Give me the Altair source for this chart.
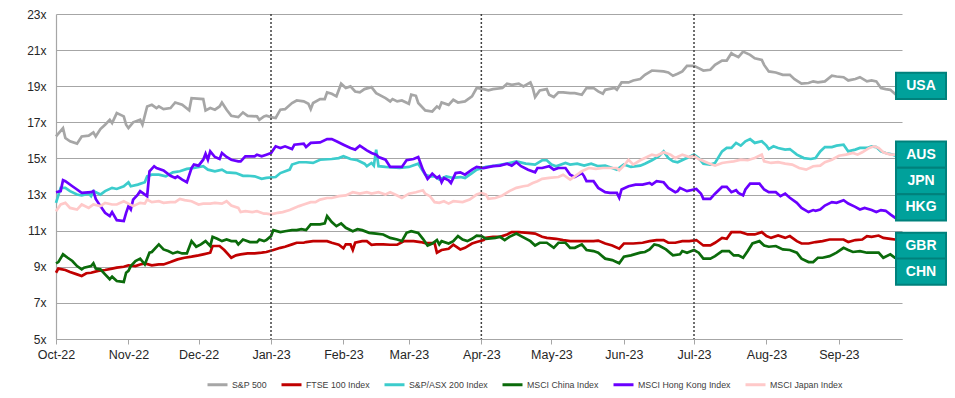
import altair as alt
import pandas as pd

START = "2022-10-01"
END = "2023-09-28"

SERIES = ["S&P 500", "FTSE 100 Index", "S&P/ASX 200 Index", "MSCI China Index",
          "MSCI Hong Kong Index", "MSCI Japan Index"]
COLORS = ["#A6A6A6", "#C00000", "#3CCCCC", "#0B6B0B", "#6A00FF", "#FFC9C9"]

Y_TICKS = [5, 7, 9, 11, 13, 15, 17, 19, 21, 23]
MONTHS = ["2022-10-01", "2022-11-01", "2022-12-01", "2023-01-01", "2023-02-01",
          "2023-03-01", "2023-04-01", "2023-05-01", "2023-06-01", "2023-07-01",
          "2023-08-01", "2023-09-01"]
QUARTERS = ["2023-01-01", "2023-04-01", "2023-07-01"]

BOX_LABELS = ["USA", "AUS", "JPN", "HKG", "GBR", "CHN"]
BOX_CENTERS = [19.02, 15.21, 13.75, 12.29, 10.16, 8.73]
BOX_HALF = 0.73

# (days since 2022-10-01, P/E multiple)
SP500 = [(0,16.22),(3,16.68),(4,16.13),(6,15.95),(9,15.82),(11,16.22),(14,16.26),(16,16.44),(17,16.22),(19,16.63),(21,16.87),(23,17.14),(24,16.96),(26,17.51),(29,17.33),(30,16.87),(31,16.68),(33,17.0),(36,17.14),(37,16.87),(39,17.88),(41,17.97),(43,17.79),(44,17.88),(46,17.73),(49,17.79),(51,18.1),(54,17.97),(57,17.66),(58,18.34),(63,18.29),(64,17.66),(66,17.79),(68,17.7),(70,17.88),(71,18.1),(73,17.7),(75,17.36),(78,17.29),(80,17.55),(82,17.36),(86,17.33),(87,17.14),(89,17.33),
         (90,17.37),(92,17.29),(94,17.24),(96,17.7),(98,17.73),(101,18.07),(103,18.21),(106,18.16),(108,18.03),(109,17.73),(110,18.07),(113,18.29),(115,18.29),(116,18.66),(118,18.58),(120,18.44),(122,19.14),(124,18.9),(126,18.99),(128,18.71),(130,18.66),(132,18.84),(135,18.95),(137,18.62),(141,18.34),(143,18.16),(144,18.29),(146,18.16),(148,18.21),(151,18.03),(152,18.53),(154,18.47),(155,18.07),(158,17.66),(161,17.6),(163,17.88),(164,17.79),(165,18.1),(168,17.97),(170,18.25),(172,18.1),(175,18.16),(178,18.44),
         (180,18.9),(183,18.84),(185,18.77),(187,18.84),(191,18.9),(193,19.14),(195,19.08),(198,19.14),(200,18.99),(203,19.21),(204,18.9),(205,18.4),(207,18.77),(210,18.84),(211,18.53),(213,18.4),(215,18.66),(217,18.66),(220,18.62),(222,18.62),(225,18.53),(227,18.9),(230,18.9),(232,18.71),(234,18.58),(235,18.8),(239,18.9),(240,18.8),(242,19.21),(245,19.21),(247,19.32),(250,19.4),(252,19.63),(255,19.87),(260,19.82),(262,19.76),(264,19.58),(266,19.69),(268,19.82),(270,20.13),
         (273,20.13),(275,20.0),(277,19.87),(280,19.91),(282,20.18),(285,20.42),(287,20.42),(289,20.83),(290,20.74),(292,20.61),(294,20.92),(297,20.74),(299,20.55),(302,20.46),(303,20.18),(305,19.82),(308,19.76),(311,19.63),(314,19.63),(316,19.39),(319,19.14),(322,19.18),(324,19.27),(326,19.21),(329,19.27),(332,19.58),(334,19.54),(337,19.5),(339,19.32),(342,19.4),(344,19.5),(347,19.27),(349,19.32),(351,19.27),(353,18.9),(355,18.84),(357,18.8),(359,18.58),(360,18.66),(362,18.71)]

FTSE = [(0,8.67),(1,8.9),(4,8.82),(6,8.71),(9,8.58),(11,8.49),(13,8.64),(15,8.67),(18,8.77),(21,8.82),(24,8.9),(26,8.95),(29,9.0),(31,9.08),(34,9.04),(36,9.13),(38,9.19),(41,9.08),(44,9.13),(46,9.13),(49,9.26),(52,9.41),(55,9.5),(58,9.56),(61,9.63),(63,9.69),(66,9.78),(67,10.15),(70,10.15),(72,9.93),(75,9.5),(77,9.63),(79,9.69),(82,9.74),(85,9.74),(88,9.78),
        (90,9.82),(93,9.93),(96,10.05),(98,10.11),(101,10.24),(103,10.33),(106,10.33),(107,10.37),(110,10.42),(113,10.42),(116,10.42),(118,10.33),(121,10.22),(123,10.02),(124,10.24),(126,10.24),(127,9.93),(128,10.33),(131,10.42),(133,10.42),(135,10.22),(137,10.24),(140,10.24),(143,10.22),(146,10.22),(149,10.42),(153,10.42),(156,10.37),(158,10.31),(162,10.31),(163,9.78),(165,9.93),(168,10.0),(170,10.22),(173,9.96),(175,10.05),(178,10.29),
        (180,10.37),(183,10.48),(184,10.6),(187,10.66),(190,10.66),(193,10.79),(195,10.92),(198,10.92),(202,10.88),(205,10.84),(208,10.66),(210,10.6),(214,10.55),(217,10.48),(220,10.42),(224,10.42),(228,10.42),(230,10.42),(232,10.45),(235,10.29),(238,10.18),(241,10.0),(243,10.29),(247,10.29),(251,10.33),(254,10.42),(257,10.48),(260,10.48),(262,10.33),(265,10.33),(268,10.42),
        (271,10.42),(274,10.48),(277,10.18),(280,10.18),(282,10.33),(285,10.6),(287,10.55),(289,10.92),(293,10.92),(296,10.79),(299,10.79),(302,10.92),(304,10.7),(306,10.6),(309,10.73),(312,10.6),(314,10.7),(317,10.42),(319,10.29),(322,10.29),(325,10.37),(328,10.42),(331,10.51),(334,10.51),(337,10.51),(339,10.37),(342,10.48),(345,10.51),(347,10.7),(349,10.66),(352,10.73),(354,10.6),(357,10.55),(359,10.51),(361,10.51)]

ASX = [(0,12.54),(2,13.37),(4,13.37),(6,13.19),(9,13.0),(11,12.95),(14,13.05),(15,12.91),(16,13.19),(19,13.0),(21,13.19),(24,13.37),(26,13.31),(29,13.46),(31,13.68),(32,13.46),(35,13.55),(38,13.68),(39,14.01),(41,14.1),(44,14.1),(47,14.01),(50,14.23),(53,14.29),(56,14.42),(59,14.47),(63,14.57),(65,14.38),(68,14.29),(71,14.38),(73,14.23),(77,14.19),(80,14.04),(82,14.04),(85,14.01),(88,13.87),
       (90,13.92),(94,13.97),(96,14.19),(100,14.38),(101,14.66),(104,14.79),(107,14.79),(110,14.75),(113,14.93),(118,14.97),(121,15.02),(123,15.12),(126,14.97),(129,14.9),(132,14.71),(133,14.57),(135,14.75),(136,14.6),(137,15.49),(138,14.57),(141,14.53),(147,14.47),(151,14.53),(155,14.71),(158,14.1),(160,14.01),(162,14.01),(164,13.83),(167,14.01),(170,13.92),(173,13.97),(175,13.92),(178,14.19),
       (180,14.38),(184,14.53),(188,14.6),(193,14.71),(197,14.84),(201,14.71),(205,14.66),(208,14.9),(210,14.9),(212,14.66),(214,14.57),(218,14.75),(220,14.66),(223,14.71),(226,14.6),(229,14.71),(232,14.57),(235,14.6),(238,14.47),(240,14.38),(243,14.66),(246,14.53),(250,14.6),(252,14.71),(255,14.9),(258,15.12),(260,15.39),(262,15.02),(264,14.84),(266,14.79),(269,14.97),
       (271,15.08),(273,15.21),(275,15.02),(277,14.71),(280,14.66),(282,14.75),(285,15.39),(287,15.58),(289,15.58),(291,15.86),(293,15.71),(295,15.95),(297,16.07),(299,15.86),(302,15.95),(304,15.71),(305,15.52),(307,15.67),(309,15.58),(312,15.49),(314,15.52),(317,15.21),(320,15.02),(323,14.97),(325,15.02),(327,15.39),(329,15.63),(332,15.63),(334,15.71),(337,15.76),(339,15.39),(342,15.49),(344,15.58),(347,15.58),(349,15.67),(351,15.63),(353,15.39),(355,15.3),(358,15.21),(361,15.08)]

CHINA = [(0,9.19),(1,9.26),(3,9.69),(5,9.5),(7,9.32),(9,9.04),(11,8.86),(12,8.95),(15,9.04),(16,9.19),(17,8.9),(19,8.86),(21,8.58),(23,8.31),(24,8.45),(26,8.21),(29,8.16),(30,8.67),(31,8.77),(32,9.04),(34,9.32),(36,9.45),(38,9.13),(40,9.78),(41,9.82),(44,10.24),(46,9.96),(48,9.87),(50,9.74),(52,9.82),(54,9.74),(56,9.74),(58,10.42),(60,10.11),(62,10.24),(64,10.42),(66,10.15),(67,10.66),(69,10.55),(71,10.42),(73,10.51),(75,10.42),(77,10.42),(78,10.24),(80,10.51),(83,10.37),(86,10.37),(87,10.51),(89,10.42),
         (90,10.48),(92,10.7),(93,11.03),(96,10.92),(98,10.97),(101,11.03),(103,11.03),(105,11.08),(107,11.03),(109,11.35),(113,11.35),(115,11.4),(116,11.81),(118,11.48),(120,11.25),(122,11.4),(124,11.16),(127,10.97),(129,11.08),(131,11.03),(134,10.88),(137,10.84),(140,10.79),(143,10.6),(146,10.51),(148,10.42),(150,10.88),(152,10.97),(155,10.88),(157,10.55),(159,10.18),(161,10.29),(163,10.48),(164,10.24),(165,10.42),(168,10.29),(170,10.42),(172,10.7),(174,10.51),(176,10.42),(178,10.55),
         (180,10.73),(182,10.7),(184,10.55),(188,10.6),(190,10.66),(192,10.48),(194,10.66),(197,10.84),(199,10.7),(203,10.42),(205,10.18),(207,10.33),(210,10.33),(213,10.05),(215,10.33),(218,10.33),(220,10.05),(222,10.05),(225,10.24),(227,9.93),(230,9.87),(232,9.78),(235,9.45),(238,9.37),(241,9.19),(243,9.56),(246,9.63),(250,9.78),(252,9.82),(254,9.96),(256,10.24),(258,10.18),(261,9.96),(264,9.63),(267,9.69),(268,9.87),(270,9.78),
         (273,9.93),(275,9.78),(277,9.45),(280,9.45),(282,9.59),(285,9.87),(288,9.87),(290,9.63),(292,9.63),(294,9.5),(296,9.87),(298,10.29),(301,10.42),(303,10.18),(305,10.11),(308,10.15),(311,9.96),(314,9.93),(317,9.78),(319,9.45),(322,9.26),(324,9.26),(326,9.5),(328,9.5),(331,9.59),(334,9.78),(337,10.05),(339,9.93),(341,9.82),(344,9.87),(347,9.78),(349,9.78),(352,9.78),(354,9.5),(357,9.69),(359,9.5),(361,9.41)]

HONGKONG = [(0,13.13),(2,13.19),(3,13.8),(4,13.74),(7,13.46),(9,13.28),(11,13.09),(15,13.13),(16,13.19),(17,12.76),(19,12.36),(21,11.99),(23,11.81),(24,12.03),(26,11.58),(29,11.53),(30,11.99),(31,12.36),(32,12.17),(33,12.72),(35,13.0),(36,13.19),(39,12.91),(40,14.29),(42,14.57),(43,14.47),(46,14.34),(49,14.04),(51,13.92),(52,14.01),(54,13.83),(56,13.68),(58,14.47),(59,14.66),(61,14.6),(63,14.93),(64,15.26),(65,14.93),(66,15.39),(68,15.08),(70,14.97),(71,15.3),(73,15.08),(75,14.93),(78,14.84),(79,14.84),(81,15.12),(85,15.12),(86,15.21),(88,15.12),
            (90,15.21),(92,15.3),(94,15.67),(96,15.58),(98,15.67),(101,15.52),(102,15.76),(106,15.82),(107,15.63),(109,15.86),(113,15.89),(116,16.07),(118,16.07),(120,15.95),(123,15.76),(126,15.58),(128,15.49),(130,15.71),(133,15.45),(135,15.3),(137,15.21),(138,15.08),(141,14.93),(143,14.53),(148,14.53),(150,14.9),(153,14.97),(155,15.08),(157,14.38),(159,13.87),(160,14.01),(161,14.16),(163,13.92),(164,14.01),(165,13.68),(166,13.92),(168,13.79),(169,13.64),(171,14.19),(173,14.23),(175,14.1),(178,14.38),
            (180,14.53),(183,14.47),(187,14.57),(190,14.6),(193,14.71),(195,14.6),(197,14.79),(199,14.57),(202,14.38),(205,14.23),(206,14.47),(208,14.47),(211,14.57),(213,14.38),(215,14.47),(218,14.47),(220,14.1),(222,13.97),(225,14.19),(226,14.01),(227,13.74),(230,13.74),(232,13.37),(235,13.13),(237,13.09),(240,13.09),(241,12.82),(242,13.28),(245,13.46),(248,13.55),(251,13.55),(254,13.64),(255,13.55),(257,13.74),(260,13.68),(262,13.37),(265,13.13),(266,13.19),(267,13.37),(270,13.19),
            (274,13.31),(276,13.05),(277,12.76),(280,12.76),(282,13.05),(285,13.42),(287,13.42),(289,13.13),(291,13.24),(292,13.09),(294,12.95),(295,13.28),(297,13.61),(301,13.61),(303,13.28),(305,13.13),(308,13.13),(310,12.91),(312,13.05),(314,12.82),(317,12.54),(319,12.26),(322,12.03),(324,12.14),(325,12.1),(327,12.17),(329,12.39),(332,12.58),(334,12.54),(337,12.69),(339,12.5),(342,12.32),(344,12.17),(346,12.26),(349,12.14),(351,12.03),(353,12.14),(355,12.1),(357,11.9),(359,11.72),(361,11.81)]

JAPAN = [(0,12.08),(2,12.45),(4,12.54),(6,12.26),(9,12.17),(11,12.45),(14,12.26),(16,12.45),(19,12.36),(21,12.54),(24,12.45),(26,12.45),(29,12.63),(31,12.5),(33,12.36),(36,12.54),(38,12.5),(39,12.72),(41,12.58),(44,12.63),(46,12.54),(49,12.58),(51,12.58),(53,12.76),(55,12.69),(58,12.63),(61,12.45),(63,12.5),(66,12.5),(68,12.54),(71,12.5),(73,12.63),(75,12.39),(78,12.26),(79,12.03),(81,12.08),(84,12.03),(86,12.08),(89,11.94),
         (90,11.94),(92,11.9),(95,11.99),(97,12.03),(100,12.14),(102,12.26),(104,12.36),(106,12.45),(109,12.58),(111,12.58),(113,12.72),(116,12.81),(118,12.81),(121,12.91),(124,12.95),(127,13.13),(130,13.05),(133,13.13),(135,13.05),(138,13.13),(141,13.0),(143,13.13),(146,12.95),(148,12.81),(151,13.05),(154,13.13),(157,13.24),(158,13.05),(160,12.91),(162,12.58),(164,12.54),(166,12.63),(168,12.5),(170,12.63),(174,12.58),(177,12.72),
         (180,13.0),(182,13.09),(184,13.0),(185,12.76),(188,12.81),(191,12.95),(194,13.19),(197,13.37),(200,13.46),(202,13.5),(204,13.64),(206,13.74),(208,13.87),(211,13.92),(215,13.97),(217,14.1),(220,13.83),(222,14.01),(225,14.29),(228,14.47),(231,14.42),(234,14.47),(237,14.47),(240,14.47),(241,14.34),(243,14.6),(245,14.93),(247,14.66),(250,14.9),(252,15.02),(255,15.21),(257,15.15),(260,15.34),(263,15.21),(265,15.02),(268,15.21),
         (271,15.08),(273,15.15),(275,14.97),(279,14.75),(282,14.6),(285,14.75),(287,14.79),(290,14.84),(293,14.93),(296,14.9),(299,15.02),(302,15.21),(303,14.84),(306,14.75),(309,14.79),(312,14.71),(315,14.66),(318,14.47),(321,14.38),(324,14.57),(327,14.6),(329,14.79),(332,14.93),(335,15.15),(338,15.21),(341,15.3),(343,15.21),(345,15.34),(348,15.58),(350,15.67),(352,15.58),(354,15.34),(357,15.21),(359,15.21),(361,15.08)]

SERIES_DATA = [SP500, FTSE, ASX, CHINA, HONGKONG, JAPAN]

FONT = "Liberation Sans, Arial, sans-serif"


def dt(s):
    y, m, d = (int(p) for p in s.split("-"))
    return alt.DateTime(year=y, month=m, date=d, utc=True)


base = pd.Timestamp(START)
rows = []
for name, pts in zip(SERIES, SERIES_DATA):
    for day, val in pts:
        rows.append({"date": (base + pd.Timedelta(days=day)).strftime("%Y-%m-%d"),
                     "value": val, "series": name})
lines_df = pd.DataFrame(rows)

quarters_df = pd.DataFrame({"date": QUARTERS})
boxes_df = pd.DataFrame({
    "label": BOX_LABELS,
    "center": BOX_CENTERS,
    "top": [c + BOX_HALF for c in BOX_CENTERS],
    "bottom": [c - BOX_HALF for c in BOX_CENTERS],
})

x_scale = alt.Scale(type="utc", domain=[dt(START), dt(END)])
y_scale = alt.Scale(domain=[5, 23], nice=False, zero=False)

X_AXIS = dict(values=[dt(m) for m in MONTHS],
              labelExpr="utcFormat(datum.value, '%b-%y')",
              grid=False, ticks=True, tickSize=5, tickColor="#A6A6A6",
              domainColor="#A6A6A6", domainWidth=1.2, labelFont=FONT,
              labelFontSize=12.5, labelColor="#262626", labelPadding=4,
              labelFlush=False, labelOverlap=False, title=None)
Y_AXIS = dict(values=Y_TICKS, labelExpr="datum.value + 'x'", grid=True,
              gridColor="#A6A6A6", gridWidth=1.2, domain=True,
              domainColor="#A6A6A6", domainWidth=1.2, ticks=False,
              labelPadding=10, labelFont=FONT, labelFontSize=12,
              labelColor="#262626", labelOverlap=False, title=None)

lines = alt.Chart(lines_df).mark_line(strokeWidth=2.7, interpolate="linear").encode(
    x=alt.X("date:T", scale=x_scale, axis=alt.Axis(**X_AXIS), title=None),
    y=alt.Y("value:Q", scale=y_scale, axis=alt.Axis(**Y_AXIS), title=None),
    color=alt.Color("series:N", scale=alt.Scale(domain=SERIES, range=COLORS),
                    legend=alt.Legend(title=None, orient="none", direction="horizontal",
                                      columns=6, legendX=150, legendY=359,
                                      symbolType="stroke", symbolSize=400,
                                      symbolStrokeWidth=3, labelFont=FONT,
                                      labelFontSize=8.8, labelColor="#404040",
                                      labelOffset=3, columnPadding=8, padding=0)),
    order=alt.Order("date:T"),
)

rules = alt.Chart(quarters_df).mark_rule(color="#404040", strokeDash=[2, 2],
                                         strokeWidth=1.5).encode(
    x=alt.X("date:T", scale=x_scale, axis=alt.Axis(**X_AXIS), title=None)
)

boxes = alt.Chart(boxes_df).mark_rect(fill="#00A19B", stroke="#00817C",
                                      strokeWidth=2).encode(
    x=alt.value(840), x2=alt.value(890),
    y=alt.Y("top:Q", scale=y_scale, axis=alt.Axis(**Y_AXIS), title=None), y2="bottom:Q",
)

box_text = alt.Chart(boxes_df).mark_text(color="white", fontWeight="bold",
                                         font=FONT, fontSize=14,
                                         align="center", baseline="middle").encode(
    x=alt.value(865),
    y=alt.Y("center:Q", scale=y_scale, axis=alt.Axis(**Y_AXIS), title=None),
    text="label:N",
)

chart = alt.layer(lines, rules, boxes, box_text).properties(
    width=846, height=325,
    padding={"left": 18, "top": 0, "right": 0, "bottom": 0},
    background="white",
).configure_view(stroke=None)

chart.save("out.html", embed_options={"renderer": "svg", "actions": False})
